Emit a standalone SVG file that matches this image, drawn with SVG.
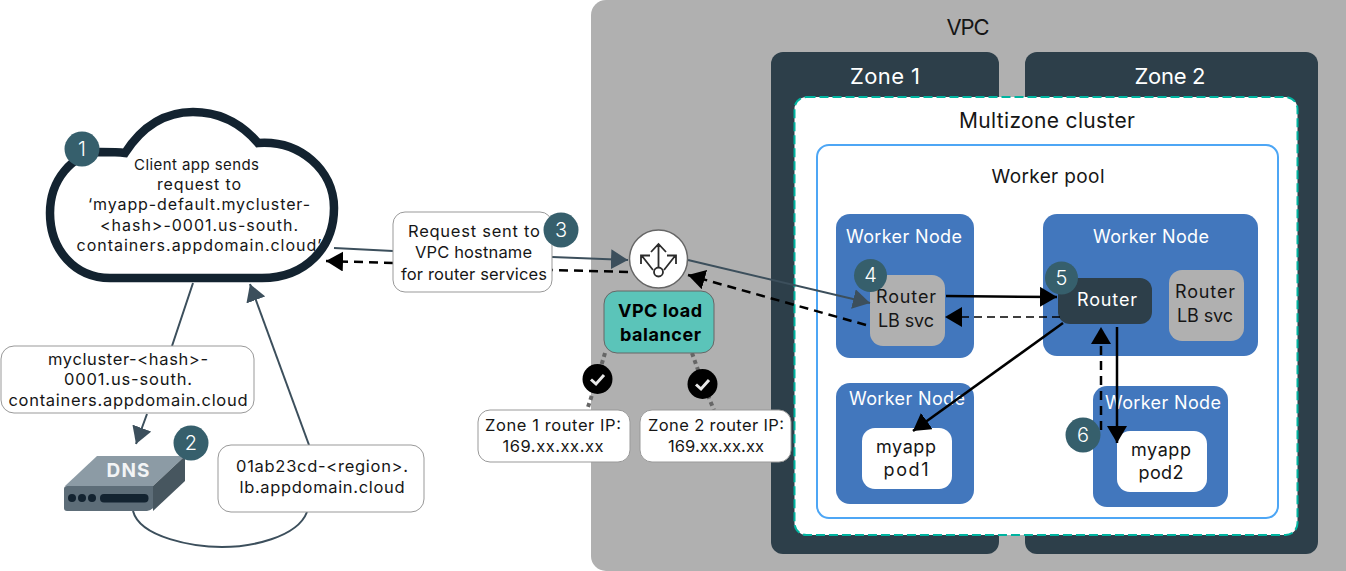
<svg xmlns="http://www.w3.org/2000/svg" width="1346" height="571" viewBox="0 0 1346 571">
<defs>
<style>
text{font-family:Inter,"Noto Sans","Liberation Sans",sans-serif;text-anchor:middle;fill:#161616}
.s16{font-size:16.500px}.s18{font-size:18px}.w{fill:#fff}
.box{fill:#fff;stroke:#999;stroke-width:1}
.blue{fill:#4277bd}.grey{fill:#b0b0b0}.pod{fill:#fff}
.badge circle{fill:#365f6c}.badge text{fill:#fff;font-size:20px;font-weight:300}
.g{fill:none;stroke:#3c4f5c;stroke-width:2}
.k{fill:none;stroke:#000;stroke-width:2.500}
.kd{fill:none;stroke:#000;stroke-width:2.500;stroke-dasharray:9 6}
.kt{fill:none;stroke:#000;stroke-width:1.500;stroke-dasharray:8 5}
.dot{fill:none;stroke:#666;stroke-width:4;stroke-dasharray:4 3.500}
</style>
<marker id="ag" markerUnits="userSpaceOnUse" markerWidth="20" markerHeight="20" refX="17" refY="10" orient="auto"><path d="M0,0L17,10L0,20Z" fill="#3c4f5c"/></marker>
<marker id="ak" markerUnits="userSpaceOnUse" markerWidth="20" markerHeight="20" refX="17" refY="10" orient="auto"><path d="M0,0L17,10L0,20Z" fill="#000"/></marker>
</defs>

<g id="vpc"><rect x="591" y="0" width="770" height="571" rx="15" class="grey"/><text x="968" y="35" style="font-size:22px" textLength="43">VPC</text></g>
<g id="zone1"><rect x="771" y="52" width="228" height="502" rx="12" fill="#2d3f4a"/><text x="885" y="84" class="w" style="font-size:22px" textLength="70">Zone 1</text></g>
<g id="zone2"><rect x="1025" y="52" width="293" height="502" rx="12" fill="#2d3f4a"/><text x="1170" y="84" class="w" style="font-size:22px" textLength="71">Zone 2</text></g>
<g id="cluster"><rect x="794.500" y="97" width="503" height="438" rx="12" fill="#fff" stroke="#00b4a0" stroke-width="2" stroke-dasharray="9 4"/><text x="1047" y="128" style="font-size:21px" textLength="176">Multizone cluster</text></g>
<g id="pool"><rect x="817" y="145" width="461" height="373" rx="12" fill="#fff" stroke="#4da6f5" stroke-width="2"/><text x="1048" y="183" style="font-size:19px" textLength="113">Worker pool</text></g>

<g id="worker1"><rect x="836" y="214" width="138" height="144" rx="14" class="blue"/><text x="904" y="243" class="s18 w" textLength="116">Worker Node</text></g>
<g id="worker2"><rect x="1043" y="214" width="215" height="142" rx="14" class="blue"/><text x="1151" y="243" class="s18 w" textLength="116">Worker Node</text></g>
<g id="worker3"><rect x="836" y="383" width="138" height="121" rx="14" class="blue"/><text x="907" y="405" class="s18 w" textLength="116">Worker Node</text></g>
<g id="worker4"><rect x="1093" y="386" width="135" height="121" rx="14" class="blue"/><text x="1163" y="409" class="s18 w" textLength="116">Worker Node</text></g>
<g id="lbsvc1"><rect x="870" y="275" width="75" height="71" rx="13" class="grey"/><text x="906" y="303" class="s18" textLength="60">Router</text><text x="906" y="327" class="s18" textLength="56">LB svc</text></g>
<g id="lbsvc2"><rect x="1169" y="270" width="75" height="71" rx="13" class="grey"/><text x="1205" y="298" class="s18" textLength="60">Router</text><text x="1205" y="322" class="s18" textLength="56">LB svc</text></g>
<g id="router"><rect x="1058" y="278" width="94" height="46" rx="12" fill="#2d3f4a"/><text x="1107" y="306" class="s18 w" textLength="60">Router</text></g>
<g id="pod1"><rect x="862" y="428" width="90" height="61" rx="13" class="pod"/><text x="906" y="453" class="s18" textLength="60">myapp</text><text x="906" y="476" class="s18" textLength="45">pod1</text></g>
<g id="pod2"><rect x="1117" y="431" width="90" height="61" rx="13" class="pod"/><text x="1161" y="456" class="s18" textLength="60">myapp</text><text x="1161" y="479" class="s18" textLength="45">pod2</text></g>

<g id="connectors">
<path class="g" d="M193,283L172,346M147,414L136,444" marker-end="url(#ag)"/>
<path class="g" d="M309,445L250,284" marker-end="url(#ag)"/>
<path class="g" d="M133,511C140,538 195,547 222,547C250,547 297,538 307,512"/>
<path class="g" d="M334,248L393,251"/>
<path class="g" d="M552,257L628,260" marker-end="url(#ag)"/>
<path class="g" d="M688,260L870,303" marker-end="url(#ag)"/>
<path class="kd" d="M628,272L552,270"/>
<path class="kd" d="M393,263L326,261" marker-end="url(#ak)"/>
<path class="kd" d="M866,325L688,275" marker-end="url(#ak)"/>
<path class="k" d="M946,296L1057,297" marker-end="url(#ak)"/>
<path class="kt" d="M1060,317L945,317" marker-end="url(#ak)"/>
<path class="k" d="M1063,323L913,431" marker-end="url(#ak)"/>
<path class="k" d="M1117,327L1117,443" marker-end="url(#ak)"/>
<path class="kd" d="M1101,430L1101,327" marker-end="url(#ak)"/>
<path class="dot" d="M605,353L597,380L587,410"/>
<path class="dot" d="M692,353L703,384L714,410"/>
</g>

<g id="cloud"><path d="M110,278L262,278C305,278 334,248 334,208C334,170 300,140 258,143C240,122 218,112 193,112C165,112 143,125 125,153C118,152 108,152 100,152C72,154 50,180 50,213C50,250 75,278 110,278Z" fill="#fff" stroke="#132330" stroke-width="8.500"/>
<text x="196.500" y="170" style="font-size:15px" textLength="125">Client app sends</text><text x="199" y="190" style="font-size:16px" textLength="84">request to</text><text x="199" y="210" style="font-size:16px" textLength="222">‘myapp-default.mycluster-</text><text x="199" y="231" style="font-size:16px" textLength="198">&lt;hash&gt;-0001.us-south.</text><text x="199" y="251" style="font-size:16px" textLength="245">containers.appdomain.cloud’</text></g>

<g id="request"><rect x="393" y="212" width="159" height="80" rx="12" class="box"/><text x="474" y="237" class="s16" textLength="132">Request sent to</text><text x="473.500" y="258" class="s16" textLength="117">VPC hostname</text><text x="474" y="280" class="s16" textLength="146">for router services</text></g>
<g id="dnsname"><rect x="1" y="346" width="253" height="67" rx="13" class="box"/><text x="128" y="365" class="s16" textLength="160">mycluster-&lt;hash&gt;-</text><text x="128" y="385" class="s16" textLength="128">0001.us-south.</text><text x="128" y="406" class="s16" textLength="239">containers.appdomain.cloud</text></g>
<g id="lbname"><rect x="218" y="445" width="206" height="67" rx="13" class="box"/><text x="322" y="472" class="s16" textLength="172">01ab23cd-&lt;region&gt;.</text><text x="322" y="493" class="s16" textLength="165">lb.appdomain.cloud</text></g>

<g id="dns">
<path d="M97,456L185,456L153,486L65,486Z" fill="#8c9ba5"/>
<path d="M153,486L185,456L185,481L153,511Z" fill="#47565f"/>
<path d="M64,489Q64,486 67,486L153,486L153,508Q150,511 147,511L67,511Q64,511 64,508Z" fill="#5d6d78"/>
<circle cx="72" cy="498" r="4" fill="#132330"/><circle cx="82" cy="498" r="4" fill="#132330"/><circle cx="92" cy="498" r="4" fill="#132330"/>
<rect x="100" y="494" width="48.500" height="8.500" rx="4" fill="#132330"/>
<text x="128" y="477" style="font-size:19px;font-weight:700;fill:#f2f4f5" textLength="43">DNS</text>
</g>

<g id="lb"><circle cx="658.500" cy="259" r="29" fill="#fff" stroke="#666" stroke-width="1.500"/>
<path d="M658.500,270V245M651,252L658.500,244L666,252M653,270L642,256M641,264L641,255.500L650,255.500M664,270L675,256M676,264L676,255.500L667,255.500" fill="none" stroke="#2b2b2b" stroke-width="1.800"/>
<circle cx="658.500" cy="272" r="4.500" fill="#fff" stroke="#2b2b2b" stroke-width="1.800"/></g>
<g id="lbbox"><rect x="604" y="291" width="110" height="62" rx="13" fill="#5bc4b9" stroke="#666" stroke-width="1"/><text x="660" y="317" style="font-size:18px;font-weight:700;fill:#000" textLength="84">VPC load</text><text x="660.500" y="341" style="font-size:18px;font-weight:700;fill:#000" textLength="81">balancer</text></g>
<g id="check1"><circle cx="597.500" cy="379" r="15" fill="#000"/><path d="M591,379.500L596,384L604,375" fill="none" stroke="#e8e8e8" stroke-width="3"/></g>
<g id="check2"><circle cx="702.500" cy="384" r="15" fill="#000"/><path d="M696,384.500L701,389L709,380" fill="none" stroke="#e8e8e8" stroke-width="3"/></g>
<g id="zone1ip"><rect x="478" y="410" width="152" height="52" rx="12" class="box"/><text x="553" y="431" class="s16" textLength="136">Zone 1 router IP:</text><text x="553" y="452" class="s16" textLength="101">169.xx.xx.xx</text></g>
<g id="zone2ip"><rect x="640" y="410" width="151" height="52" rx="12" class="box"/><text x="716" y="431" class="s16" textLength="136">Zone 2 router IP:</text><text x="716" y="452" class="s16" textLength="96">169.xx.xx.xx</text></g>

<g class="badge" id="b1"><circle cx="82" cy="149" r="17.500"/><text x="82" y="156">1</text></g>
<g class="badge" id="b2"><circle cx="191" cy="443" r="17.500"/><text x="191" y="450">2</text></g>
<g class="badge" id="b3"><circle cx="561" cy="230" r="17.500"/><text x="561" y="237">3</text></g>
<g class="badge" id="b4"><circle cx="870.500" cy="275.500" r="16.500"/><text x="870.500" y="282">4</text></g>
<g class="badge" id="b5"><circle cx="1061.500" cy="278" r="16.500"/><text x="1061.500" y="284.500">5</text></g>
<g class="badge" id="b6"><circle cx="1083" cy="435" r="17.500"/><text x="1083" y="442">6</text></g>
</svg>
